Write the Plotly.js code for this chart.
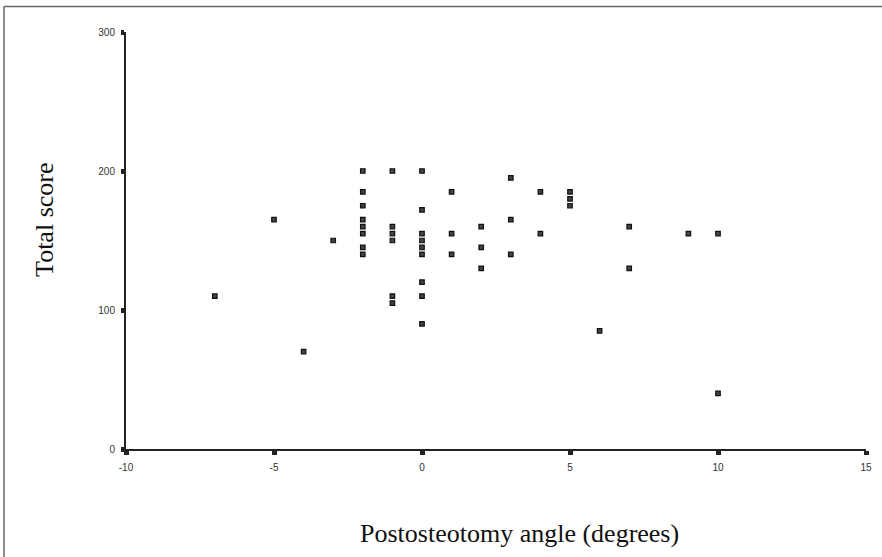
<!DOCTYPE html>
<html>
<head>
<meta charset="utf-8">
<script src="https://cdn.plot.ly/plotly-3.0.1.min.js"></script>
<style>
  html, body { margin: 0; padding: 0; background: #fff; }
  #chart { width: 882px; height: 557px; }
</style>
</head>
<body>
<div id="chart"></div>
<script>
// Postosteotomy angle (degrees) for each patient
const angles = [
  -7,
  -5,
  -4,
  -3,
  -2, -2, -2, -2, -2, -2, -2, -2,
  -1, -1, -1, -1, -1, -1,
  0, 0, 0, 0, 0, 0, 0, 0, 0,
  1, 1, 1,
  2, 2, 2,
  3, 3, 3,
  4, 4,
  5, 5, 5,
  6,
  7, 7,
  9,
  10, 10
];
// Total score for each patient
const scores = [
  110,
  165,
  70,
  150,
  200, 185, 175, 165, 160, 155, 145, 140,
  200, 160, 155, 150, 110, 105,
  200, 172, 155, 150, 145, 140, 120, 110, 90,
  185, 155, 140,
  160, 145, 130,
  195, 165, 140,
  185, 155,
  185, 180, 175,
  85,
  160, 130,
  155,
  155, 40
];
const xTickVals = [-10, -5, 0, 5, 10, 15];
const yTickVals = [0, 100, 200, 300];
const xTitle = 'Postosteotomy angle (degrees)';
const yTitle = 'Total score';

const trace = {
  type: 'scatter',
  mode: 'markers',
  x: angles,
  y: scores,
  marker: {
    symbol: 'square',
    size: 4.5,
    color: '#444',
    line: { color: '#111', width: 1.2 }
  },
  hoverinfo: 'x+y'
};

const tickFont = { family: '"Liberation Sans", Arial, sans-serif', size: 10, color: '#333' };
const titleFont = { family: '"Liberation Serif", "Times New Roman", serif', size: 26, color: '#111' };

const layout = {
  width: 882,
  height: 557,
  margin: { l: 126, r: 16, t: 32, b: 108 },
  paper_bgcolor: '#fff',
  plot_bgcolor: '#fff',
  showlegend: false,
  xaxis: {
    range: [-10, 15],
    tickvals: xTickVals,
    ticktext: xTickVals.map(String),
    ticks: 'outside',
    ticklen: 4,
    tickwidth: 5,
    tickcolor: '#222',
    showline: true,
    linecolor: '#222',
    linewidth: 2,
    showgrid: false,
    zeroline: false,
    tickfont: tickFont,
    ticklabelstandoff: 4,
    fixedrange: true
  },
  yaxis: {
    range: [0, 300],
    tickvals: yTickVals,
    ticktext: yTickVals.map(String),
    ticks: 'outside',
    ticklen: 3,
    tickwidth: 5,
    tickcolor: '#222',
    showline: true,
    linecolor: '#222',
    linewidth: 2,
    showgrid: false,
    zeroline: false,
    tickfont: tickFont,
    ticklabelstandoff: 4,
    fixedrange: true
  },
  annotations: [
    { text: xTitle, xref: 'paper', yref: 'paper', x: 0.532, y: -0.2038,
      xanchor: 'center', yanchor: 'middle', showarrow: false, font: titleFont },
    { text: yTitle, xref: 'paper', yref: 'paper', x: -0.111, y: 0.549,
      xanchor: 'center', yanchor: 'middle', textangle: -90, showarrow: false, font: titleFont }
  ],
  shapes: [
    { type: 'line', xref: 'paper', yref: 'paper',
      x0: -0.1649, x1: 1.2, y0: 1.0612, y1: 1.0612,
      line: { color: '#666', width: 1.5 } },
    { type: 'line', xref: 'paper', yref: 'paper',
      x0: -0.1649, x1: -0.1649, y0: 1.0612, y1: -0.3,
      line: { color: '#666', width: 1.5 } }
  ]
};

Plotly.newPlot('chart', [trace], layout, { displayModeBar: false, staticPlot: true });
</script>
</body>
</html>
